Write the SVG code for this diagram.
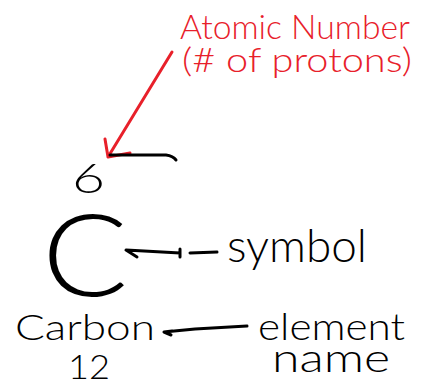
<svg xmlns="http://www.w3.org/2000/svg" width="428" height="387" viewBox="0 0 428 387">
<style>
.t{font-family:"Lato","Open Sans","DejaVu Sans",sans-serif;font-weight:300;fill:#000}
.r{fill:#e8202a}
.ln{fill:none;stroke:#000;stroke-width:3;stroke-linecap:round;stroke-linejoin:round}
.lr{fill:none;stroke:#e8202a;stroke-width:3;stroke-linecap:round;stroke-linejoin:round}
</style>
<rect width="428" height="387" fill="#fff"/>
<g id="connectors">
<path class="lr" d="M172,52 L108,157 M105,139 L108,157 L130,153"/>
<path class="ln" d="M110,155 L166,155 Q173,156 176,160"/>
<path class="ln" d="M137,257 L126,250 L180,253 M180,249 L180,257 M190,253 L217,252"/>
<path class="ln" d="M172,331 L164,332 L171,335 M164,332 L195,329 L247,326"/>
</g>
<g id="atomic-number-label">
<text class="t r" x="180" y="39" font-size="34" textLength="230" lengthAdjust="spacingAndGlyphs">Atomic Number</text>
<text class="t r" x="182" y="72" font-size="33" textLength="230" lengthAdjust="spacingAndGlyphs">(# of protons)</text>
</g>
<g id="number"><text class="t" x="72" y="193" font-size="42" textLength="33" lengthAdjust="spacingAndGlyphs">6</text></g>
<g id="symbol-C"><text class="t" x="42" y="296" font-size="114" font-weight="200" textLength="86" lengthAdjust="spacingAndGlyphs">C</text></g>
<g id="symbol-label"><text class="t" x="227" y="262" font-size="46" textLength="140" lengthAdjust="spacingAndGlyphs">symbol</text></g>
<g id="name"><text class="t" x="15" y="340" font-size="36" textLength="140" lengthAdjust="spacingAndGlyphs">Carbon</text></g>
<g id="mass"><text class="t" x="68" y="379" font-size="34" textLength="42" lengthAdjust="spacingAndGlyphs">12</text></g>
<g id="element-name-label">
<text class="t" x="258" y="340" font-size="38" textLength="147" lengthAdjust="spacingAndGlyphs">element</text>
<text class="t" x="272" y="372" font-size="40" textLength="118" lengthAdjust="spacingAndGlyphs">name</text>
</g>
</svg>
